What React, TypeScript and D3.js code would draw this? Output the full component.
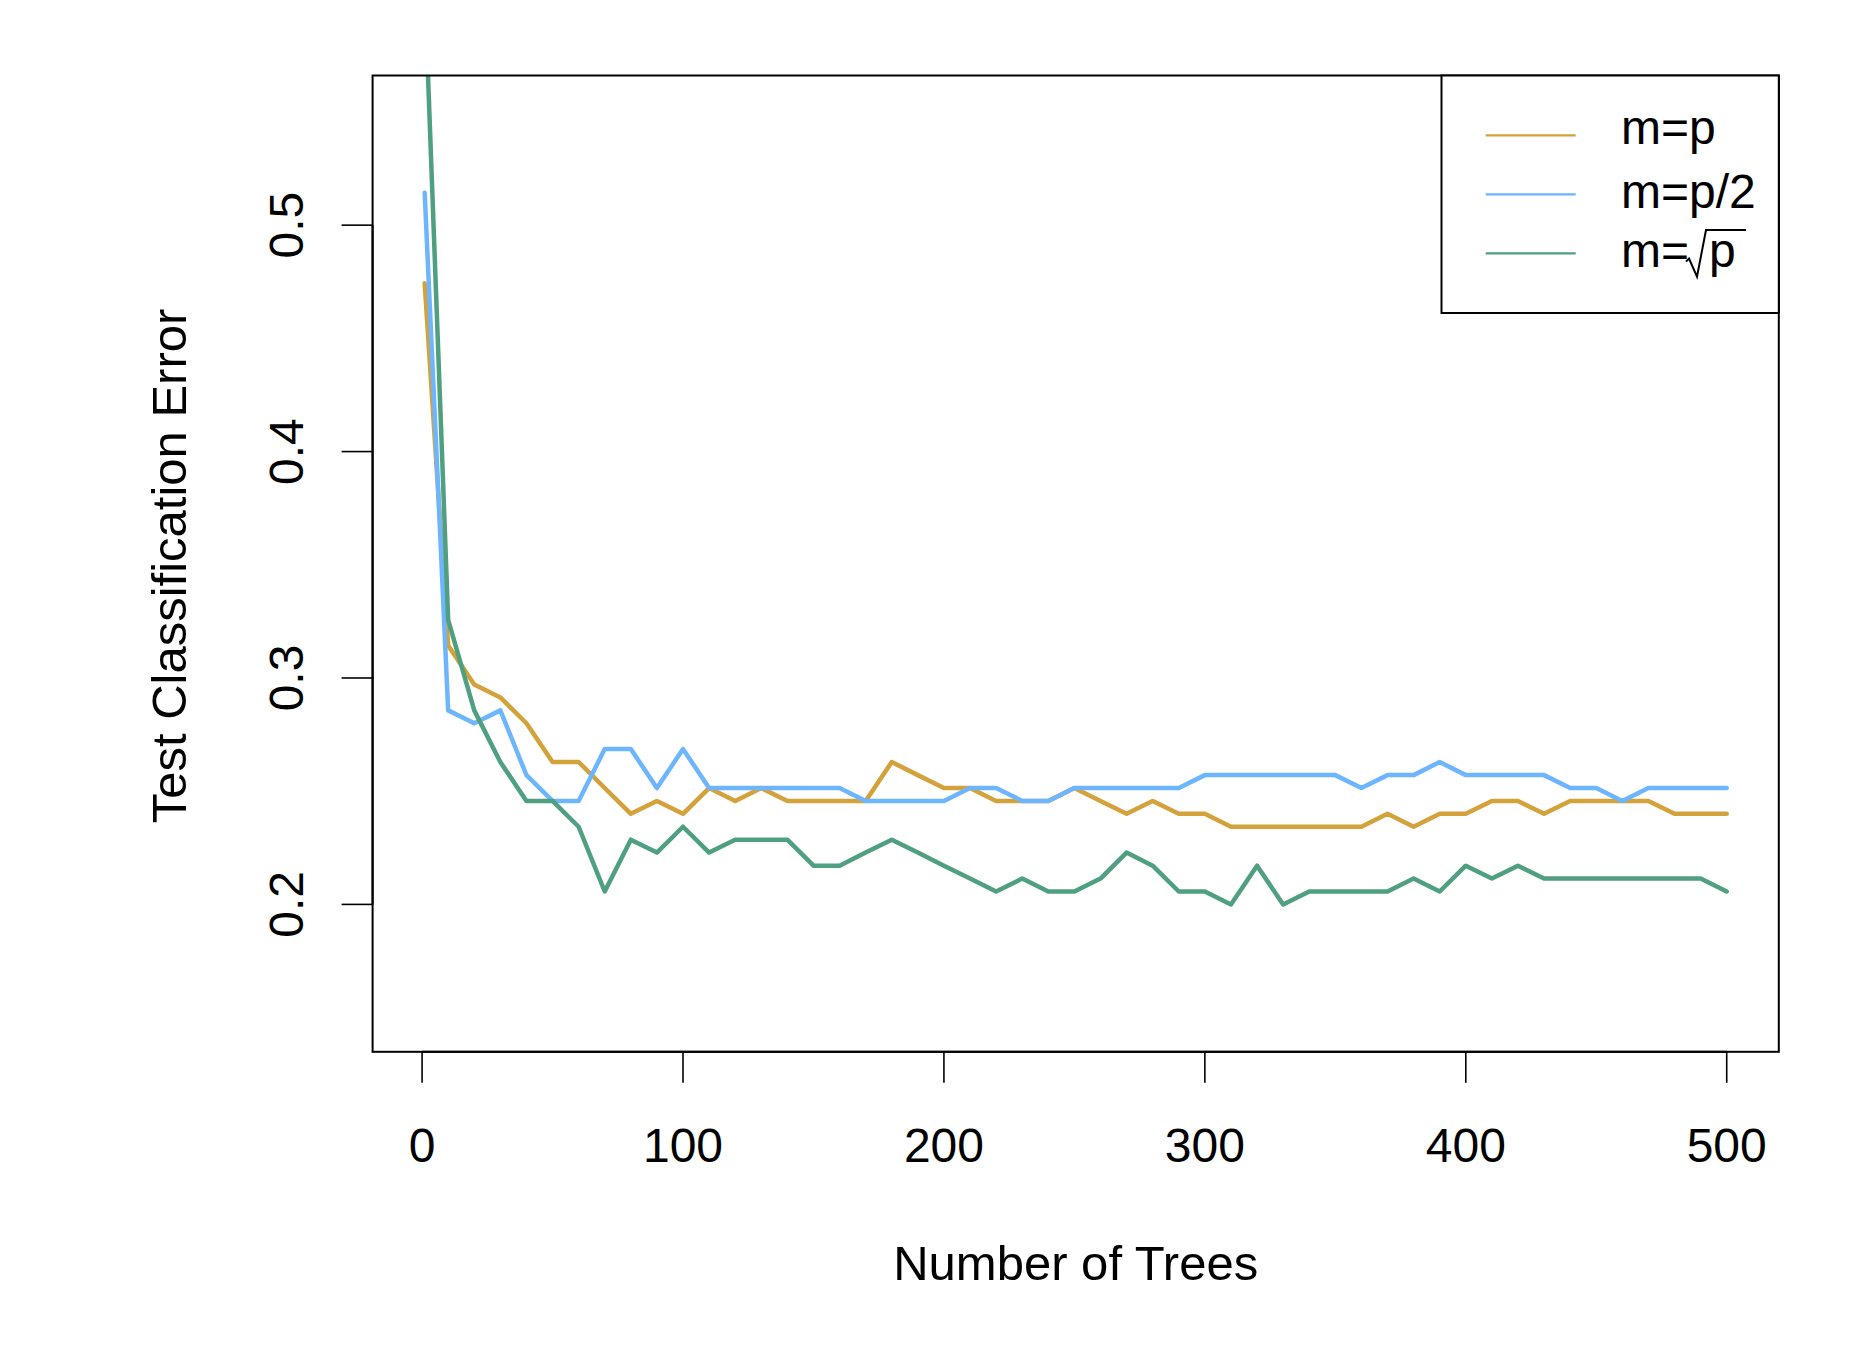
import React from "react";
import * as d3 from "d3";

const trees = [1, 10, 20, 30, 40, 50, 60, 70, 80, 90, 100, 110, 120, 130, 140, 150, 160, 170, 180, 190, 200, 210, 220, 230, 240, 250, 260, 270, 280, 290, 300, 310, 320, 330, 340, 350, 360, 370, 380, 390, 400, 410, 420, 430, 440, 450, 460, 470, 480, 490, 500];

const errMp = [0.4743, 0.3143, 0.2971, 0.2914, 0.2800, 0.2629, 0.2629, 0.2514, 0.2400, 0.2457, 0.2400, 0.2514, 0.2457, 0.2514, 0.2457, 0.2457, 0.2457, 0.2457, 0.2629, 0.2571, 0.2514, 0.2514, 0.2457, 0.2457, 0.2457, 0.2514, 0.2457, 0.2400, 0.2457, 0.2400, 0.2400, 0.2343, 0.2343, 0.2343, 0.2343, 0.2343, 0.2343, 0.2400, 0.2343, 0.2400, 0.2400, 0.2457, 0.2457, 0.2400, 0.2457, 0.2457, 0.2457, 0.2457, 0.2400, 0.2400, 0.2400];

const errMp2 = [0.5143, 0.2857, 0.2800, 0.2857, 0.2571, 0.2457, 0.2457, 0.2686, 0.2686, 0.2514, 0.2686, 0.2514, 0.2514, 0.2514, 0.2514, 0.2514, 0.2514, 0.2457, 0.2457, 0.2457, 0.2457, 0.2514, 0.2514, 0.2457, 0.2457, 0.2514, 0.2514, 0.2514, 0.2514, 0.2514, 0.2571, 0.2571, 0.2571, 0.2571, 0.2571, 0.2571, 0.2514, 0.2571, 0.2571, 0.2629, 0.2571, 0.2571, 0.2571, 0.2571, 0.2514, 0.2514, 0.2457, 0.2514, 0.2514, 0.2514, 0.2514];

const errMsqrt = [0.6057, 0.3257, 0.2857, 0.2629, 0.2457, 0.2457, 0.2343, 0.2057, 0.2286, 0.2229, 0.2343, 0.2229, 0.2286, 0.2286, 0.2286, 0.2171, 0.2171, 0.2229, 0.2286, 0.2229, 0.2171, 0.2114, 0.2057, 0.2114, 0.2057, 0.2057, 0.2114, 0.2229, 0.2171, 0.2057, 0.2057, 0.2000, 0.2171, 0.2000, 0.2057, 0.2057, 0.2057, 0.2057, 0.2114, 0.2057, 0.2171, 0.2114, 0.2171, 0.2114, 0.2114, 0.2114, 0.2114, 0.2114, 0.2114, 0.2114, 0.2057];

const xTicks = [0, 100, 200, 300, 400, 500];
const yTicks = [0.2, 0.3, 0.4, 0.5];
const seriesLabels = ["m=p", "m=p/2", "m=sqrt(p)"];
const seriesColors = ["#D3A23A", "#6DB6FF", "#4F9F81"];
const xTitle = "Number of Trees";
const yTitle = "Test Classification Error";

const W = 1849;
const H = 1350;
const L = 372.6;
const R = 1778.8;
const T = 75.5;
const B = 1051.8;
const FONT = "'Liberation Sans', Arial, Helvetica, sans-serif";
const FS = 48;
const FS_TITLE = 49;

export default function App() {
  const x = d3.scaleLinear().domain([-18.96, 519.96]).range([L, R]);
  const y = d3.scaleLinear().domain([0.1349, 0.5661]).range([B, T]);
  const series = [errMp, errMp2, errMsqrt];
  const line = d3
    .line<number>()
    .x((_, i) => x(trees[i]))
    .y((d) => y(d));

  const legL = 1441.5;
  const legB = 313;
  const legRowY = [135.3, 194.3, 253.3];
  const legTextBase = [143.5, 207.5, 266.6];
  const legLineX0 = 1485.7;
  const legLineX1 = 1575.7;
  const legTextX = 1621;

  return (
    <svg
      width={W}
      height={H}
      viewBox={`0 0 ${W} ${H}`}
      style={{ position: "absolute", left: 0, top: 0, background: "#fff" }}
      fontFamily={FONT}
    >
      <rect x={0} y={0} width={W} height={H} fill="#fff" />
      <defs>
        <clipPath id="plotclip">
          <rect x={L} y={T} width={R - L} height={B - T} />
        </clipPath>
      </defs>

      <g clipPath="url(#plotclip)">
        {series.map((s, i) => (
          <path
            key={i}
            d={line(s) || ""}
            fill="none"
            stroke={seriesColors[i]}
            strokeWidth={4.5}
            strokeLinejoin="round"
            strokeLinecap="round"
          />
        ))}
      </g>

      {/* plot box */}
      <rect x={L} y={T} width={R - L} height={B - T} fill="none" stroke="#000" strokeWidth={2} />

      {/* x axis */}
      <line x1={x(xTicks[0])} x2={x(xTicks[xTicks.length - 1])} y1={B} y2={B} stroke="#000" strokeWidth={2} />
      {xTicks.map((t) => (
        <g key={t}>
          <line x1={x(t)} x2={x(t)} y1={B} y2={B + 31} stroke="#000" strokeWidth={1.6} />
          <text x={x(t)} y={1161.5} textAnchor="middle" fontSize={FS} fill="#000">
            {t}
          </text>
        </g>
      ))}

      {/* y axis */}
      <line x1={L} x2={L} y1={y(yTicks[0])} y2={y(yTicks[yTicks.length - 1])} stroke="#000" strokeWidth={2} />
      {yTicks.map((t) => (
        <g key={t}>
          <line x1={L - 31} x2={L} y1={y(t)} y2={y(t)} stroke="#000" strokeWidth={1.6} />
          <text
            transform={`translate(${303},${y(t)}) rotate(-90)`}
            textAnchor="middle"
            fontSize={FS}
            fill="#000"
          >
            {t.toFixed(1)}
          </text>
        </g>
      ))}

      {/* axis titles */}
      <text x={(L + R) / 2} y={1280} textAnchor="middle" fontSize={FS_TITLE} fill="#000">
        {xTitle}
      </text>
      <text
        transform={`translate(${185.5},${566}) rotate(-90)`}
        textAnchor="middle"
        fontSize={FS_TITLE}
        fill="#000"
      >
        {yTitle}
      </text>

      {/* legend */}
      <rect x={legL} y={T} width={R - legL} height={legB - T} fill="#fff" stroke="#000" strokeWidth={2} />
      {seriesLabels.map((lab, i) => (
        <g key={lab}>
          <line
            x1={legLineX0}
            x2={legLineX1}
            y1={legRowY[i]}
            y2={legRowY[i]}
            stroke={seriesColors[i]}
            strokeWidth={2.2}
          />
          {i < 2 ? (
            <text x={legTextX} y={legTextBase[i]} fontSize={FS} fill="#000">
              {lab}
            </text>
          ) : (
            <g>
              <text x={legTextX} y={legTextBase[i]} fontSize={FS} fill="#000">
                m=
              </text>
              <path
                d={`M ${legTextX + 65} ${legTextBase[i] - 5} L ${legTextX + 68} ${legTextBase[i] - 8} L ${legTextX + 76} ${legTextBase[i] + 10} L ${legTextX + 85} ${legTextBase[i] - 36.5} L ${legTextX + 125} ${legTextBase[i] - 36.5}`}
                fill="none"
                stroke="#000"
                strokeWidth={2}
                strokeLinejoin="miter"
              />
              <text x={legTextX + 88} y={legTextBase[i]} fontSize={FS} fill="#000">
                p
              </text>
            </g>
          )}
        </g>
      ))}
    </svg>
  );
}
